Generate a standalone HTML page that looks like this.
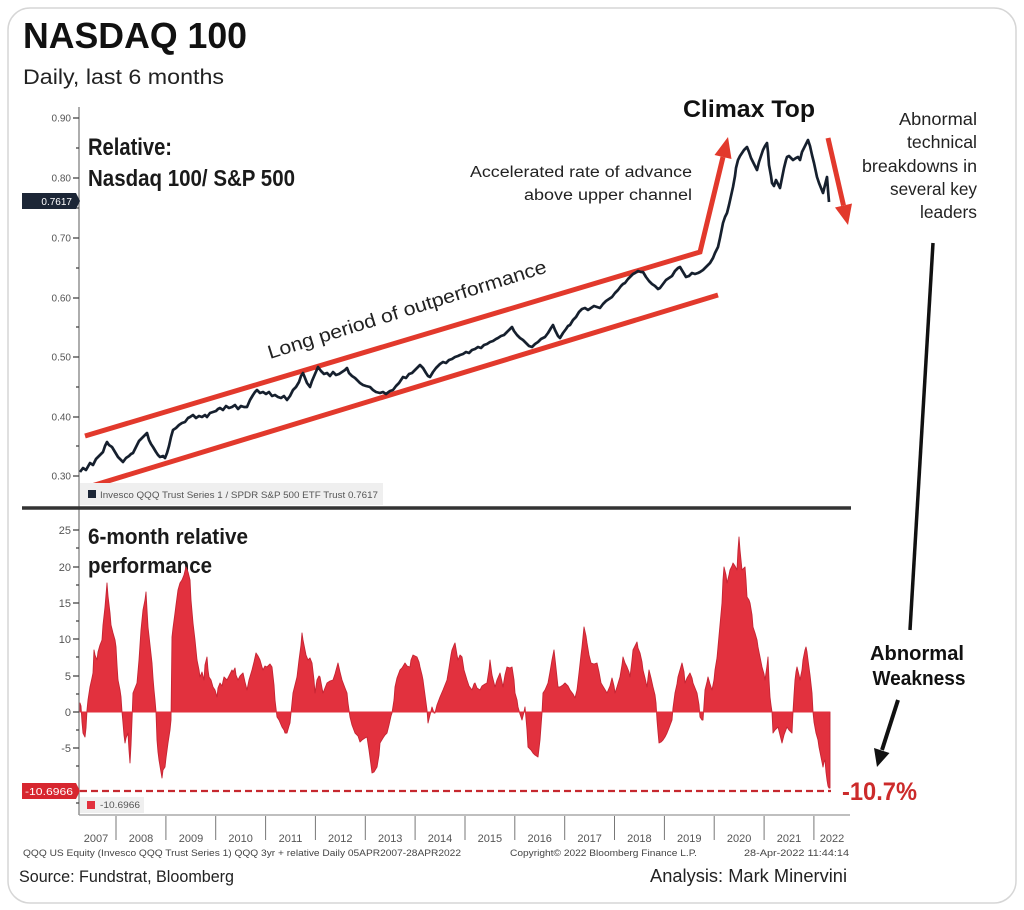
<!DOCTYPE html>
<html><head><meta charset="utf-8"><style>
html,body{margin:0;padding:0;background:#fff;}
svg{display:block;}
text{font-family:"Liberation Sans",Arial,sans-serif;}
</style></head><body>
<svg width="1024" height="910" viewBox="0 0 1024 910" xmlns="http://www.w3.org/2000/svg">
<rect x="0" y="0" width="1024" height="910" fill="#fff"/>
<rect x="8" y="8" width="1008" height="895" rx="22" ry="22" fill="#fff" stroke="#d6d6d6" stroke-width="1.5"/>

<!-- Titles -->
<text x="23" y="48" font-size="36" font-weight="bold" fill="#111" textLength="224" lengthAdjust="spacingAndGlyphs">NASDAQ 100</text>
<text x="23" y="84" font-size="21" fill="#222" textLength="201" lengthAdjust="spacingAndGlyphs">Daily, last 6 months</text>

<!-- Axis line -->
<line x1="79" y1="107" x2="79" y2="815" stroke="#777" stroke-width="1.2"/>
<line x1="79" y1="815" x2="850" y2="815" stroke="#999" stroke-width="1.2"/>

<!-- Top y ticks -->
<g stroke="#444" stroke-width="1.3">
<line x1="73" y1="118" x2="79" y2="118"/><line x1="73" y1="178" x2="79" y2="178"/>
<line x1="73" y1="238" x2="79" y2="238"/><line x1="73" y1="298" x2="79" y2="298"/>
<line x1="73" y1="357" x2="79" y2="357"/><line x1="73" y1="417" x2="79" y2="417"/>
<line x1="73" y1="476" x2="79" y2="476"/>
<line x1="76" y1="148" x2="79" y2="148"/><line x1="76" y1="208" x2="79" y2="208"/>
<line x1="76" y1="268" x2="79" y2="268"/><line x1="76" y1="327" x2="79" y2="327"/>
<line x1="76" y1="387" x2="79" y2="387"/><line x1="76" y1="446" x2="79" y2="446"/>
</g>
<g font-size="10" fill="#555" text-anchor="end">
<text x="71" y="121.5">0.90</text><text x="71" y="181.5">0.80</text>
<text x="71" y="241.5">0.70</text><text x="71" y="301.5">0.60</text>
<text x="71" y="360.5">0.50</text><text x="71" y="420.5">0.40</text>
<text x="71" y="479.5">0.30</text>
</g>

<!-- Navy value label -->
<path d="M22,193 L76,193 L80,201 L76,209 L22,209 Z" fill="#1c2636"/>
<text x="72" y="205" font-size="10" fill="#fff" text-anchor="end">0.7617</text>

<!-- Top annotations -->
<text x="88" y="155" font-size="24" font-weight="bold" fill="#1a1a1a" textLength="84" lengthAdjust="spacingAndGlyphs">Relative:</text>
<text x="88" y="186" font-size="23" font-weight="bold" fill="#1a1a1a" textLength="207" lengthAdjust="spacingAndGlyphs">Nasdaq 100/ S&amp;P 500</text>

<text x="683" y="117" font-size="24" font-weight="bold" fill="#111" textLength="132" lengthAdjust="spacingAndGlyphs">Climax Top</text>

<g font-size="17.5" fill="#222" text-anchor="end">
<text x="977" y="125" textLength="78" lengthAdjust="spacingAndGlyphs">Abnormal</text>
<text x="977" y="148" textLength="70" lengthAdjust="spacingAndGlyphs">technical</text>
<text x="977" y="172" textLength="115" lengthAdjust="spacingAndGlyphs">breakdowns in</text>
<text x="977" y="195" textLength="87" lengthAdjust="spacingAndGlyphs">several key</text>
<text x="977" y="218" textLength="57" lengthAdjust="spacingAndGlyphs">leaders</text>
</g>

<g font-size="15.5" fill="#222" text-anchor="end">
<text x="692" y="177" textLength="222" lengthAdjust="spacingAndGlyphs">Accelerated rate of advance</text>
<text x="692" y="200" textLength="168" lengthAdjust="spacingAndGlyphs">above upper channel</text>
</g>

<text x="270" y="359" font-size="19" fill="#222" transform="rotate(-17.36 270 359)" textLength="291" lengthAdjust="spacingAndGlyphs">Long period of outperformance</text>

<!-- Red channel lines -->
<g stroke="#e2392c" stroke-width="5" fill="none" stroke-linecap="butt" stroke-linejoin="miter">
<polyline points="85,436 700,252 723,157"/>
<line x1="85" y1="488" x2="718" y2="295"/>
<line x1="828" y1="138" x2="843.5" y2="205.5"/>
</g>
<polygon points="728,137 731.5,159 714.5,155" fill="#e2392c"/>
<polygon points="848,225 852,203.5 835,207.5" fill="#e2392c"/>

<!-- Top legend -->
<rect x="80" y="483" width="303" height="22" fill="#efefef"/>
<rect x="88" y="490" width="8" height="8" fill="#1c2636"/>
<text x="100" y="498" font-size="9" fill="#555" textLength="278" lengthAdjust="spacingAndGlyphs">Invesco QQQ Trust Series 1 / SPDR S&amp;P 500 ETF Trust  0.7617</text>

<!-- Series line -->
<polyline fill="none" stroke="#16202e" stroke-width="2.7" stroke-linejoin="round" points="80,472 83,468 86,470 90,463 93,465 96,459 100,455 103,452 105,446 107,442 109,445 112,447 115,452 118,457 121,460 123,462 126,458 129,456 131,454 133,453 136,447 139,441 142,438 145,435 147,433 149,440 151,444 153,447 156,452 158,455 160,457 163,456 165,458 167,453 169,446 171,437 173,430 176,428 179,425 182,423 185,422 188,418 190,417 193,415 196,418 199,416 202,417 205,415 207,417 210,413 213,412 216,411 218,409 220,408 223,410 226,406 229,408 232,407 235,405 238,409 241,406 244,407 247,407 250,400 253,395 255,392 257,390 260,393 263,392 266,394 269,392 272,396 275,395 278,397 281,398 284,396 287,400 290,396 293,390 296,387 299,382 301,376 303,373 305,378 307,383 310,387 312,381 315,374 318,367 321,371 324,374 327,373 330,376 333,372 336,375 339,374 342,372 345,370 347,368 349,373 352,376 355,378 357,380 360,383 363,385 366,386 370,387 373,390 376,392 380,393 383,392 386,394 390,391 393,390 396,386 399,383 401,380 403,377 406,378 409,374 412,373 415,370 418,367 420,365 423,368 426,373 428,376 430,377 433,372 436,368 440,364 443,362 446,363 449,360 452,359 455,357 458,356 460,355 463,354 466,352 469,353 472,350 475,349 478,347 481,348 484,345 487,344 490,342 493,341 496,339 498,338 501,336 504,335 507,332 510,329 512,327 514,331 517,335 520,338 523,340 526,343 529,346 532,347 535,344 538,342 541,339 545,337 548,333 551,328 553,325 555,330 558,336 560,338 563,333 566,329 568,326 570,325 573,320 576,317 579,312 582,309 585,308 588,310 591,308 594,306 597,307 600,308 603,304 606,301 609,299 612,297 615,293 618,290 621,286 623,284 625,283 628,279 631,276 633,274 635,273 638,271 641,272 643,272 646,277 649,281 652,284 655,286 658,289 660,288 663,284 666,280 669,278 672,276 675,271 678,268 680,267 683,272 686,277 689,276 692,273 695,274 698,273 700,272 703,270 706,267 708,265 710,263 713,258 715,253 718,247 720,238 722,228 723,223 725,217 727,213 729,205 731,196 733,187 735,176 736,168 738,160 740,156 742,153 744,150 747,147 749,152 751,158 753,162 755,166 757,170 759,162 761,156 763,150 765,146 767,143 768,152 769,165 771,176 772,183 774,186 776,180 778,184 780,188 782,178 784,168 786,160 787,157 789,156 791,158 793,160 796,158 798,157 800,160 802,152 804,148 806,144 808,140 810,146 812,155 814,163 817,177 819,183 821,188 823,193 825,185 827,177 828,190 829,202"/>

<!-- Separator -->
<line x1="22" y1="508" x2="851" y2="508" stroke="#333" stroke-width="3.5"/>

<!-- Bottom y ticks -->
<g stroke="#444" stroke-width="1.3">
<line x1="73" y1="530" x2="79" y2="530"/><line x1="73" y1="567" x2="79" y2="567"/>
<line x1="73" y1="603" x2="79" y2="603"/><line x1="73" y1="639" x2="79" y2="639"/>
<line x1="73" y1="676" x2="79" y2="676"/><line x1="73" y1="712" x2="79" y2="712"/>
<line x1="73" y1="748" x2="79" y2="748"/>
<line x1="76" y1="548" x2="79" y2="548"/><line x1="76" y1="585" x2="79" y2="585"/>
<line x1="76" y1="621" x2="79" y2="621"/><line x1="76" y1="657" x2="79" y2="657"/>
<line x1="76" y1="694" x2="79" y2="694"/><line x1="76" y1="730" x2="79" y2="730"/>
<line x1="76" y1="766" x2="79" y2="766"/><line x1="76" y1="803" x2="79" y2="803"/>
</g>
<g font-size="11" fill="#555" text-anchor="end">
<text x="71" y="534">25</text><text x="71" y="571">20</text>
<text x="71" y="607">15</text><text x="71" y="643">10</text>
<text x="71" y="680">5</text><text x="71" y="716">0</text>
<text x="71" y="752">-5</text>
</g>

<text x="88" y="544" font-size="22" font-weight="bold" fill="#1a1a1a" textLength="160" lengthAdjust="spacingAndGlyphs">6-month relative</text>
<text x="88" y="573" font-size="22" font-weight="bold" fill="#1a1a1a" textLength="124" lengthAdjust="spacingAndGlyphs">performance</text>

<!-- Histogram -->
<polygon fill="#e2313e" stroke="#c52433" stroke-width="0.9" stroke-linejoin="round" points="80,712 80,703 81,706 82,722 83,733 85,737 86,728 87,710 88,700 90,687 92,678 93,673 94,650 95,655 97,660 98,652 100,645 102,640 103,625 105,607 106,595 107,583 108,596 110,613 111,625 113,633 115,640 116,647 117,665 118,680 120,690 121,697 122,712 123,723 124,735 125,743 126,738 128,733 129,750 130,763 131,745 132,720 133,693 135,688 137,683 139,660 141,630 142,620 143,610 145,600 146,592 147,610 148,627 150,645 152,663 153,678 154,690 155,700 156,712 157,740 158,752 159,760 161,772 162,778 163,770 165,767 166,758 168,743 170,730 171,720 172,637 173,628 175,613 176,605 178,590 180,583 182,580 184,575 186,567 188,572 190,580 191,600 193,623 195,640 197,660 199,670 200,677 202,672 204,680 205,665 207,657 208,670 209,677 211,680 213,687 215,690 217,697 218,688 220,683 222,686 224,677 227,680 229,676 232,670 233,672 235,668 236,675 238,680 240,676 243,673 245,682 247,690 249,680 252,670 254,662 256,653 258,656 260,660 262,667 263,670 265,666 267,667 270,664 272,667 274,685 275,700 277,717 279,720 282,727 284,730 285,733 287,733 289,726 290,723 291,713 293,693 295,685 297,677 299,660 301,645 302,633 303,640 305,650 306,655 308,660 310,658 312,663 314,680 315,693 317,680 319,676 320,677 322,688 323,693 325,688 327,683 330,681 333,680 335,674 338,663 340,672 342,680 345,688 347,693 348,703 350,717 352,725 355,733 358,736 360,742 362,740 365,738 367,737 369,750 371,765 372,773 374,772 377,767 379,755 380,743 383,738 385,735 387,733 389,725 391,716 392,713 394,700 395,687 397,678 400,670 402,668 405,663 407,666 410,667 411,660 413,655 415,656 417,657 419,662 420,667 422,675 423,680 425,695 427,710 428,723 430,715 432,707 434,713 435,713 437,705 440,697 443,690 445,685 447,680 449,668 451,655 452,650 454,645 455,643 457,655 458,660 460,655 462,657 464,670 467,680 469,686 472,690 474,684 475,683 477,688 480,690 482,686 485,684 487,683 489,670 490,660 492,675 495,687 497,680 500,673 502,682 503,687 505,675 507,667 510,668 512,667 514,680 515,693 517,700 518,707 520,714 522,720 524,712 525,707 527,730 528,747 531,750 533,753 535,755 538,757 540,740 542,713 543,693 545,690 548,683 550,672 552,660 554,650 556,668 558,687 560,687 563,685 565,683 568,686 570,690 573,694 575,698 577,690 579,673 581,655 582,647 584,627 586,636 587,643 589,655 591,663 594,664 597,663 599,672 601,683 604,688 607,693 610,686 612,678 614,686 615,693 617,687 620,677 622,665 623,657 625,663 627,667 629,672 630,677 632,660 633,650 635,646 637,642 638,648 640,653 642,662 643,670 645,678 647,687 648,678 649,670 651,678 653,687 655,695 656,703 657,720 658,732 659,743 661,742 663,740 665,737 667,733 669,728 672,720 673,708 675,693 677,684 678,677 680,670 682,663 684,672 685,683 687,678 690,673 692,678 693,683 695,688 697,693 699,705 700,717 702,720 703,720 704,705 705,690 707,682 708,677 710,684 712,690 714,680 715,670 717,658 718,647 720,625 722,603 723,580 724,567 726,575 727,583 729,575 730,570 732,566 733,563 735,566 737,570 738,550 739,537 740,550 742,570 744,568 745,567 746,580 747,597 749,600 750,603 752,615 753,627 755,633 757,640 758,647 760,657 762,667 764,674 765,680 767,666 768,657 769,680 770,697 771,705 772,712 773,733 775,730 778,727 780,735 782,743 784,735 787,727 789,730 792,733 793,712 794,695 795,680 796,672 797,667 799,675 800,680 802,670 803,660 805,650 806,647 807,652 808,660 810,675 812,693 813,712 814,722 816,733 818,740 819,747 821,757 823,767 824,762 825,760 826,772 827,780 828,786 829,788 830,788 830,712"/>
<line x1="80" y1="712" x2="830" y2="712" stroke="#e2313e" stroke-width="1"/>

<!-- Dashed level -->
<line x1="80" y1="791" x2="831" y2="791" stroke="#c6282f" stroke-width="2.2" stroke-dasharray="7 4"/>
<path d="M22,783 L76,783 L80,791 L76,799 L22,799 Z" fill="#d7262f"/>
<text x="73" y="795" font-size="10" fill="#fff" text-anchor="end" textLength="48" lengthAdjust="spacingAndGlyphs">-10.6966</text>

<!-- Bottom legend -->
<rect x="80" y="797" width="64" height="16" fill="#efefef"/>
<rect x="87" y="801" width="8" height="8" fill="#e2313e"/>
<text x="100" y="808" font-size="9" fill="#555" textLength="40" lengthAdjust="spacingAndGlyphs">-10.6966</text>

<!-- -10.7% -->
<text x="842" y="800" font-size="25" font-weight="bold" fill="#cc2b2b" textLength="75" lengthAdjust="spacingAndGlyphs">-10.7%</text>

<!-- Abnormal Weakness -->
<text x="917" y="660" font-size="20" font-weight="bold" fill="#111" text-anchor="middle" textLength="94" lengthAdjust="spacingAndGlyphs">Abnormal</text>
<text x="919" y="685" font-size="20" font-weight="bold" fill="#111" text-anchor="middle" textLength="93" lengthAdjust="spacingAndGlyphs">Weakness</text>

<!-- Black lines / arrows -->
<line x1="933" y1="243" x2="910" y2="630" stroke="#111" stroke-width="3.5"/>
<line x1="898" y1="700" x2="882" y2="750" stroke="#111" stroke-width="4"/>
<polygon points="877,767 889.5,753 874,748" fill="#111"/>

<!-- X axis year separators -->
<g stroke="#777" stroke-width="1">
<line x1="116" y1="816" x2="116" y2="840"/><line x1="165.9" y1="816" x2="165.9" y2="840"/>
<line x1="215.7" y1="816" x2="215.7" y2="840"/><line x1="265.6" y1="816" x2="265.6" y2="840"/>
<line x1="315.4" y1="816" x2="315.4" y2="840"/><line x1="365.3" y1="816" x2="365.3" y2="840"/>
<line x1="415.1" y1="816" x2="415.1" y2="840"/><line x1="465" y1="816" x2="465" y2="840"/>
<line x1="514.8" y1="816" x2="514.8" y2="840"/><line x1="564.7" y1="816" x2="564.7" y2="840"/>
<line x1="614.5" y1="816" x2="614.5" y2="840"/><line x1="664.4" y1="816" x2="664.4" y2="840"/>
<line x1="714.2" y1="816" x2="714.2" y2="840"/><line x1="764.1" y1="816" x2="764.1" y2="840"/>
<line x1="813.9" y1="816" x2="813.9" y2="840"/>
</g>
<g font-size="11" fill="#555" text-anchor="middle">
<text x="96" y="842">2007</text><text x="141" y="842">2008</text>
<text x="191" y="842">2009</text><text x="240.6" y="842">2010</text>
<text x="290.5" y="842">2011</text><text x="340.3" y="842">2012</text>
<text x="390.2" y="842">2013</text><text x="440" y="842">2014</text>
<text x="489.9" y="842">2015</text><text x="539.7" y="842">2016</text>
<text x="589.6" y="842">2017</text><text x="639.4" y="842">2018</text>
<text x="689.3" y="842">2019</text><text x="739.1" y="842">2020</text>
<text x="789" y="842">2021</text><text x="832" y="842">2022</text>
</g>

<!-- Footer -->
<g font-size="9" fill="#444">
<text x="23" y="856" textLength="438" lengthAdjust="spacingAndGlyphs">QQQ US Equity (Invesco QQQ Trust Series 1) QQQ 3yr + relative  Daily 05APR2007-28APR2022</text>
<text x="510" y="856" textLength="187" lengthAdjust="spacingAndGlyphs">Copyright© 2022 Bloomberg Finance L.P.</text>
<text x="744" y="856" textLength="105" lengthAdjust="spacingAndGlyphs">28-Apr-2022 11:44:14</text>
</g>
<text x="19" y="882" font-size="17" fill="#222" textLength="215" lengthAdjust="spacingAndGlyphs">Source: Fundstrat, Bloomberg</text>
<text x="650" y="882" font-size="18" fill="#222" textLength="197" lengthAdjust="spacingAndGlyphs">Analysis: Mark Minervini</text>
</svg>
</body></html>
